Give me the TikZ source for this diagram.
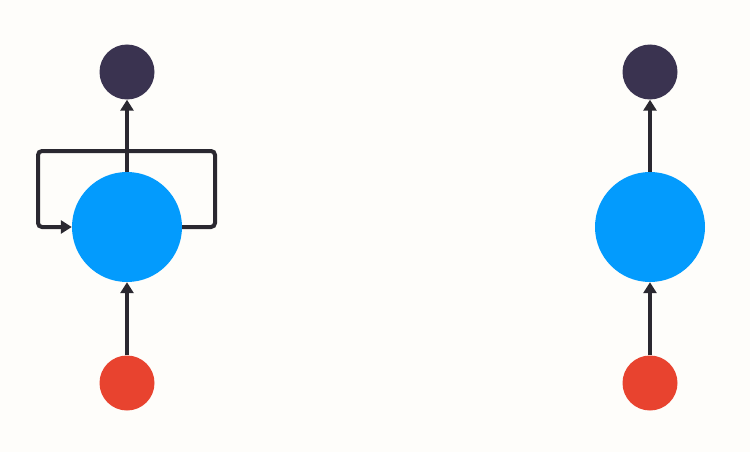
\documentclass[tikz,border=0pt]{standalone}
\usetikzlibrary{arrows.meta}
\definecolor{bg}{HTML}{FEFDFA}
\definecolor{hid}{HTML}{039BFD}
\definecolor{outc}{HTML}{3A3350}
\definecolor{inc}{HTML}{E8432F}
\definecolor{linec}{HTML}{2A2830}
\begin{document}
\begin{tikzpicture}[x=1pt,y=-1pt,
  big/.style={circle,fill=hid,draw=none,inner sep=0,minimum size=110pt},
  small/.style={circle,draw=none,inner sep=0,minimum size=55pt},
  conn/.style={draw=linec,line width=4pt,-{Triangle[length=11pt,width=13pt]}}]
\fill[bg] (0,0) rectangle (750,452);
\useasboundingbox (0,0) rectangle (750,452);
% left network
\node[big] (h1) at (127,227) {};
\node[small,fill=outc] (o1) at (127,72) {};
\node[small,fill=inc] (i1) at (127,383) {};
\coordinate (lr) at (215,227);
\coordinate (tr) at (215,151);
\coordinate (tl) at (38,151);
\coordinate (ll) at (38,227);
\draw[conn] (i1) -- (h1);
\draw[conn] (h1) -- (o1);
\draw[conn,rounded corners=4pt] (h1.east) -- (lr) -- (tr) -- (tl) -- (ll) -- (h1.west);
% right network
\node[big] (h2) at (650,227) {};
\node[small,fill=outc] (o2) at (650,72) {};
\node[small,fill=inc] (i2) at (650,383) {};
\draw[conn] (i2) -- (h2);
\draw[conn] (h2) -- (o2);
\end{tikzpicture}
\end{document}
